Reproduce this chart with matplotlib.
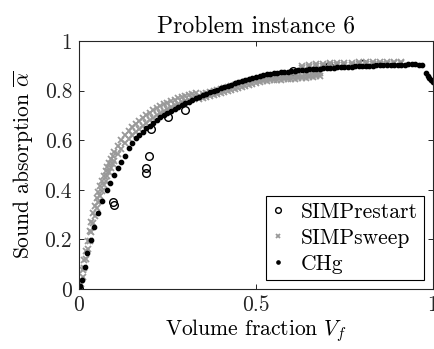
import numpy as np
import matplotlib
matplotlib.use("Agg")
import matplotlib.pyplot as plt

plt.rcParams['font.family'] = 'serif'
plt.rcParams['font.serif'] = ['cmr10', 'DejaVu Serif']
plt.rcParams['mathtext.fontset'] = 'cm'
plt.rcParams['axes.unicode_minus'] = False
plt.rcParams['axes.formatter.use_mathtext'] = True

# SIMPrestart (open circles)
restart_x = [0.0, 0.097, 0.100, 0.188, 0.188, 0.198, 0.2025, 0.252, 0.300, 0.605, 0.706, 0.802]
restart_y = [0.005, 0.352, 0.340, 0.487, 0.467, 0.535, 0.645, 0.692, 0.722, 0.881, 0.899, 0.906]

# SIMPsweep (grey crosses), low volume part: two edges of the band
sweep_lo_x = [0.005, 0.01, 0.015, 0.02, 0.025, 0.03, 0.035, 0.04, 0.045, 0.05,
              0.055, 0.06, 0.065, 0.07, 0.075, 0.08, 0.085, 0.09, 0.095, 0.10,
              0.11, 0.12, 0.13, 0.14, 0.15, 0.16, 0.17, 0.18, 0.19, 0.20,
              0.21, 0.22, 0.23, 0.24, 0.25, 0.26, 0.27, 0.28, 0.29, 0.30,
              0.31, 0.32, 0.33]
sweep_lo_top = [0.035, 0.075, 0.115, 0.155, 0.195, 0.235, 0.27, 0.305, 0.335, 0.365,
                0.39, 0.415, 0.435, 0.455, 0.475, 0.492, 0.508, 0.523, 0.538, 0.552,
                0.577, 0.600, 0.620, 0.636, 0.652, 0.665, 0.678, 0.690, 0.700, 0.710,
                0.720, 0.729, 0.737, 0.744, 0.751, 0.757, 0.763, 0.769, 0.774, 0.779,
                0.783, 0.787, 0.790]
sweep_lo_mid = [0.02, 0.05, 0.085, 0.12, 0.16, 0.195, 0.23, 0.265, 0.295, 0.325,
                0.35, 0.375, 0.397, 0.418, 0.437, 0.455, 0.472, 0.488, 0.503, 0.517,
                0.543, 0.566, 0.587, 0.604, 0.620, 0.634, 0.647, 0.659, 0.670, 0.680,
                0.690, 0.700, 0.709, 0.718, 0.726, 0.733, 0.740, 0.747, 0.753, 0.759,
                0.764, 0.769, 0.773]

# SIMPsweep, middle part (below CHg)
sweep_mid_x = [0.34, 0.35, 0.36, 0.37, 0.38, 0.39, 0.40, 0.41, 0.42, 0.43,
               0.44, 0.45, 0.46, 0.47, 0.48, 0.49, 0.50, 0.51, 0.52, 0.53,
               0.54, 0.55, 0.56, 0.57, 0.58, 0.59, 0.60, 0.61, 0.62, 0.63,
               0.64, 0.65, 0.66, 0.67, 0.68]
sweep_mid_a = [0.780, 0.785, 0.790, 0.794, 0.798, 0.802, 0.806, 0.810, 0.814, 0.818,
               0.822, 0.826, 0.830, 0.834, 0.838, 0.841, 0.844, 0.846, 0.848, 0.850,
               0.851, 0.852, 0.853, 0.854, 0.855, 0.856, 0.857, 0.858, 0.859, 0.860,
               0.862, 0.864, 0.866, 0.868, 0.870]
sweep_mid_b = [0.768, 0.772, 0.776, 0.780, 0.784, 0.788, 0.792, 0.796, 0.800, 0.804,
               0.808, 0.812, 0.816, 0.820, 0.824, 0.828, 0.832, 0.835, 0.838, 0.840,
               0.841, 0.842, 0.843, 0.844, 0.845, 0.846, 0.847, 0.848, 0.849, 0.850,
               0.851, 0.853, 0.855, 0.857, 0.859]

# SIMPsweep, high volume part (above CHg)
sweep_hi_x = [0.63, 0.65, 0.67, 0.69, 0.71, 0.73, 0.75, 0.77, 0.79, 0.81,
              0.83, 0.85, 0.87, 0.89, 0.91]
sweep_hi_a = [0.893, 0.896, 0.898, 0.900, 0.902, 0.903, 0.904, 0.905, 0.906, 0.907,
              0.908, 0.909, 0.909, 0.910, 0.910]
sweep_hi_b = [0.900, 0.903, 0.906, 0.908, 0.910, 0.911, 0.912, 0.913, 0.914, 0.914,
              0.915, 0.915, 0.916, 0.916, 0.916]

# CHg (black dots)
chg_x = [0.0, 0.003, 0.009, 0.017, 0.024, 0.034, 0.043, 0.053, 0.066, 0.078, 0.088,
         0.10, 0.11, 0.12, 0.13, 0.14, 0.15, 0.16, 0.17, 0.18, 0.19,
         0.20, 0.21, 0.22, 0.23, 0.24, 0.25, 0.26, 0.27, 0.28, 0.29,
         0.30, 0.31, 0.32, 0.33, 0.34, 0.35, 0.36, 0.37, 0.38, 0.39,
         0.40, 0.41, 0.42, 0.43, 0.44, 0.45, 0.46, 0.47, 0.48, 0.49,
         0.50, 0.51, 0.52, 0.53, 0.54, 0.55, 0.56, 0.57, 0.58, 0.59,
         0.60, 0.61, 0.62, 0.63, 0.64, 0.65, 0.66, 0.67, 0.68, 0.69,
         0.70, 0.71, 0.72, 0.73, 0.74, 0.75, 0.76, 0.77, 0.78, 0.79,
         0.80, 0.81, 0.82, 0.83, 0.84, 0.85, 0.86, 0.87, 0.88, 0.89,
         0.90, 0.91, 0.92, 0.93, 0.94, 0.95, 0.96, 0.97,
         0.980, 0.985, 0.990, 0.995, 1.000]
chg_y = [0.005, 0.01, 0.036, 0.090, 0.144, 0.198, 0.251, 0.305, 0.355, 0.398, 0.428,
         0.460, 0.487, 0.513, 0.538, 0.568, 0.590, 0.607, 0.622, 0.635, 0.648,
         0.659, 0.670, 0.681, 0.692, 0.702, 0.711, 0.719, 0.727, 0.735, 0.742,
         0.749, 0.756, 0.763, 0.770, 0.776, 0.782, 0.788, 0.794, 0.799, 0.804,
         0.809, 0.814, 0.819, 0.824, 0.829, 0.834, 0.839, 0.844, 0.848, 0.852,
         0.856, 0.859, 0.862, 0.865, 0.867, 0.869, 0.871, 0.873, 0.875, 0.877,
         0.879, 0.881, 0.882, 0.884, 0.885, 0.886, 0.887, 0.888, 0.889, 0.890,
         0.891, 0.892, 0.893, 0.894, 0.895, 0.896, 0.896, 0.897, 0.898, 0.899,
         0.899, 0.900, 0.901, 0.901, 0.902, 0.902, 0.903, 0.903, 0.904, 0.904,
         0.905, 0.905, 0.905, 0.906, 0.906, 0.906, 0.905, 0.902,
         0.872, 0.860, 0.850, 0.842, 0.836]

xtick_vals = [0, 0.5, 1]
xtick_labels = ['0', '0.5', '1']
ytick_vals = [0, 0.2, 0.4, 0.6, 0.8, 1]
ytick_labels = ['0', '0.2', '0.4', '0.6', '0.8', '1']

sweep_x = sweep_lo_x + sweep_lo_x + sweep_mid_x + sweep_mid_x + sweep_hi_x + sweep_hi_x
sweep_y = sweep_lo_top + sweep_lo_mid + sweep_mid_a + sweep_mid_b + sweep_hi_a + sweep_hi_b

fig = plt.figure(figsize=(4.35, 3.49), dpi=100)
ax = fig.add_axes([0.1816, 0.172, 0.8138, 0.7105])

ax.plot(restart_x, restart_y, 'o', ls='none', mfc='none', mec='black', ms=5.5, mew=1.0,
        label='SIMPrestart')
ax.plot(sweep_x, sweep_y, 'x', ls='none', color=(0.6, 0.6, 0.6), ms=4.5, mew=1.3,
        label='SIMPsweep')
ax.plot(chg_x, chg_y, '.', ls='none', color='black', ms=6.2, label='CHg')

ax.set_xlim(0, 1)
ax.set_ylim(0, 1)
ax.set_xticks(xtick_vals)
ax.set_xticklabels(xtick_labels)
ax.set_yticks(ytick_vals)
ax.set_yticklabels(ytick_labels)
ax.tick_params(direction='in', top=True, right=True, length=3.5, width=0.7,
               labelsize=15.5, pad=5, colors=(0.15, 0.15, 0.15))
for s in ax.spines.values():
    s.set_color((0.15, 0.15, 0.15))
    s.set_linewidth(0.8)

ax.set_xlabel('Volume fraction $V_f$', fontsize=15.5, labelpad=1)
ax.set_ylabel(r'Sound absorption $\overline{\alpha}$', fontsize=15.5, labelpad=6)
ax.set_title('Problem instance 6', fontsize=17, pad=6)

leg = ax.legend(loc='lower right', fontsize=15.5, fancybox=False, framealpha=1,
                edgecolor='black', handlelength=0.5, handletextpad=0.8,
                borderaxespad=0.4, labelspacing=0.3, borderpad=0.3,
                markerscale=0.75)
leg.get_frame().set_linewidth(0.8)

fig.savefig('out.png', dpi=100)
